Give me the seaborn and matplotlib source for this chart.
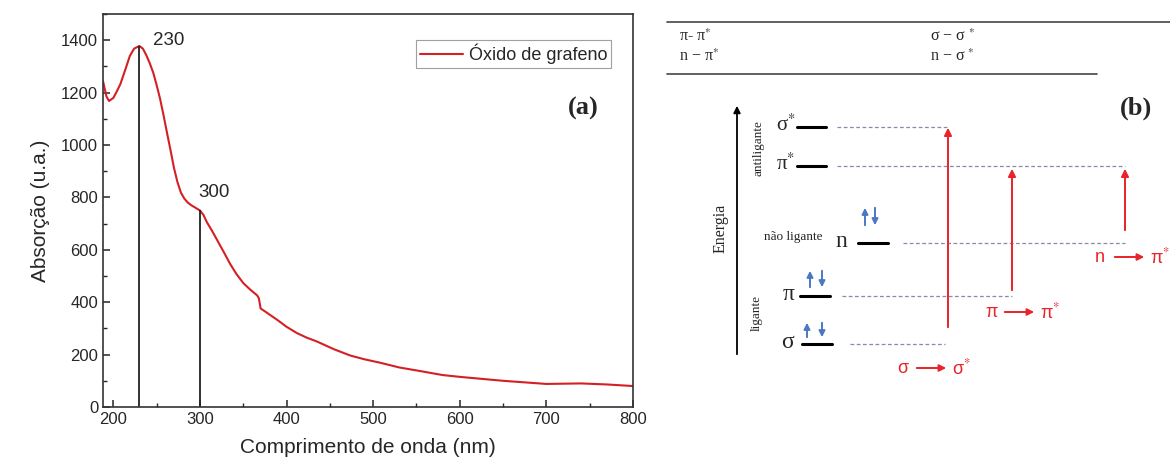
import matplotlib
matplotlib.use("Agg")
import matplotlib.pyplot as plt
import seaborn as sns
import pandas as pd
from matplotlib.ticker import MultipleLocator

# UV-Vis spectrum of graphene oxide
wavelength = [188, 192, 195, 200, 204, 208, 214, 219, 224, 230, 234, 238, 242, 246,
              250, 254, 258, 262, 266, 270, 274, 278, 282, 286, 290, 294, 298, 300,
              304, 308, 314, 320, 328, 335, 342, 350, 358, 366, 368, 370, 375, 389,
              400, 412, 423, 435, 455, 474, 490, 508, 530, 558, 580, 600, 650, 700,
              740, 770, 800]
absorbance = [1244, 1185, 1168, 1180, 1205, 1232, 1290, 1340, 1368, 1378, 1368, 1343, 1312, 1276,
              1228, 1175, 1112, 1045, 980, 912, 858, 818, 795, 780, 770, 762, 754, 750,
              733, 705, 672, 636, 588, 545, 508, 473, 448, 426, 415, 376, 365, 333,
              306, 282, 265, 250, 220, 196, 182, 169, 151, 135, 122, 115, 100, 88,
              90, 86, 80]
peak_nm = [230, 300]
peak_abs = [1378, 750]
peak_labels = ["230", "300"]

# transition table (top of panel b)
table_left = ["π- π$^{*}$", "n − π$^{*}$"]
table_right = ["σ − σ $^{*}$", "n − σ $^{*}$"]

# energy level diagram (panel b), y in pixel rows of the panel
level_names = ["σ$^{*}$", "π$^{*}$", "n", "π", "σ"]
level_y = [127, 166, 243, 296, 344]

sns.set_style("ticks")
plt.rcParams['font.family'] = ['Liberation Sans', 'DejaVu Sans']
plt.rcParams['mathtext.fontset'] = 'stix'

fig = plt.figure(figsize=(11.7, 4.65), dpi=100)

# ---------------- panel (a) ----------------
ax = fig.add_axes([103/1170, 58/465, 530/1170, 393/465])
df = pd.DataFrame({'nm': wavelength, 'abs': absorbance})
sns.lineplot(data=df, x='nm', y='abs', color='#d42024', lw=1.5, ax=ax, label='Óxido de grafeno')
ax.vlines(peak_nm, 0, peak_abs, color='#222222', lw=1.3)
ax.text(peak_nm[0] + 16, 1400, peak_labels[0], fontsize=13.5, va='center')
ax.text(peak_nm[1] - 2, 820, peak_labels[1], fontsize=13.5, va='center')

ax.set_xlim(188, 800)
ax.set_ylim(0, 1500)
ax.set_xticks([200, 300, 400, 500, 600, 700, 800])
ax.set_yticks([0, 200, 400, 600, 800, 1000, 1200, 1400])
ax.xaxis.set_minor_locator(MultipleLocator(50))
ax.yaxis.set_minor_locator(MultipleLocator(100))
ax.tick_params(which='major', direction='in', length=5, width=1.1, labelsize=12)
ax.tick_params(which='minor', direction='in', length=3, width=1.0)
for s in ax.spines.values():
    s.set_linewidth(1.2)
    s.set_color('#333333')
ax.set_xlabel('Comprimento de onda (nm)', fontsize=15, labelpad=8)
ax.set_ylabel('Absorção (u.a.)', fontsize=15, labelpad=8)

leg = ax.legend(loc='upper right', bbox_to_anchor=(0.958, 0.933), borderaxespad=0,
                fontsize=13, handlelength=2.4, handletextpad=0.3, frameon=True,
                fancybox=False, borderpad=0.2)
leg.get_frame().set_edgecolor('#888888')
leg.get_frame().set_linewidth(0.8)
ax.text(0.935, 0.76, '(a)', transform=ax.transAxes, fontsize=19, fontweight='bold',
        family='Liberation Serif', ha='right', va='center')

# ---------------- panel (b) ----------------
bx = fig.add_axes([640/1170, 0, 530/1170, 1])
bx.set_xlim(640, 1170)
bx.set_ylim(465, 0)
bx.axis('off')
serif = 'Liberation Serif'
red = '#e8232a'
blue = '#4a78c2'

bx.plot([667, 1170], [22, 22], color='#444444', lw=1.2)
bx.plot([667, 1097], [74, 74], color='#444444', lw=1.2)
for i, (l, r) in enumerate(zip(table_left, table_right)):
    bx.text(679, 37 + i * 20, l, family=serif, fontsize=11.5, va='center')
    bx.text(930, 37 + i * 20, r, family=serif, fontsize=11.5, va='center')
bx.text(1152, 108, '(b)', family=serif, fontsize=19, fontweight='bold', ha='right', va='center')

# energy axis
bx.annotate('', xy=(737, 103), xytext=(737, 357),
            arrowprops=dict(arrowstyle='-|>', color='black', lw=1.3, mutation_scale=10))
bx.text(721, 228, 'Energia', family=serif, fontsize=11.5, rotation=90, ha='center', va='center')
bx.text(758, 148, 'antiligante', family=serif, fontsize=9.5, rotation=90, ha='center', va='center')
bx.text(757, 313, 'ligante', family=serif, fontsize=9.5, rotation=90, ha='center', va='center')
bx.text(822, 237, 'não ligante', family=serif, fontsize=9.5, ha='right', va='center')

# levels: label x, line start, line end, dashed start, dashed end
lab_x = [786, 786, 841, 789, 787]
line_x = [(797, 826), (797, 826), (858, 888), (800, 830), (802, 832)]
dash_x = [(837, 948), (837, 1125), (903, 1125), (842, 1012), (850, 945)]
for name, y, lx, (a0, a1), (d0, d1) in zip(level_names, level_y, lab_x, line_x, dash_x):
    bx.text(lx, y - 2, name, family=serif, fontsize=17 if name in ('n', 'π', 'σ') else 15,
            ha='center', va='center')
    bx.plot([a0, a1], [y, y], color='black', lw=2.2)
    bx.plot([d0, d1], [y, y], color='#8a8aa8', lw=0.9, ls=(0, (3, 2)))

# electron spins
for xu, xd, y0, y1 in [(865, 875, 228, 205), (810, 822, 290, 268), (807, 822, 340, 320)]:
    bx.annotate('', xy=(xu, y1), xytext=(xu, y0),
                arrowprops=dict(arrowstyle='-|>', color=blue, lw=1.4, mutation_scale=9))
    bx.annotate('', xy=(xd, y0), xytext=(xd, y1),
                arrowprops=dict(arrowstyle='-|>', color=blue, lw=1.4, mutation_scale=9))

# transitions
for x, y0, y1 in [(948, 330, 125), (1012, 293, 166), (1125, 233, 166)]:
    bx.annotate('', xy=(x, y1), xytext=(x, y0),
                arrowprops=dict(arrowstyle='-|>', color=red, lw=1.4, mutation_scale=11))

for (t0, t1, xa, y) in [('σ', 'σ$^{*}$', 897, 368), ('π', 'π$^{*}$', 985, 312), ('n', 'π$^{*}$', 1095, 257)]:
    bx.text(xa, y, t0, color=red, fontsize=13, va='center', ha='left')
    bx.annotate('', xy=(xa + 52, y), xytext=(xa + 17, y),
                arrowprops=dict(arrowstyle='-|>', color=red, lw=1.4, mutation_scale=10))
    bx.text(xa + 55, y, t1, color=red, fontsize=13, va='center', ha='left')

fig.savefig('out.png', dpi=100)
